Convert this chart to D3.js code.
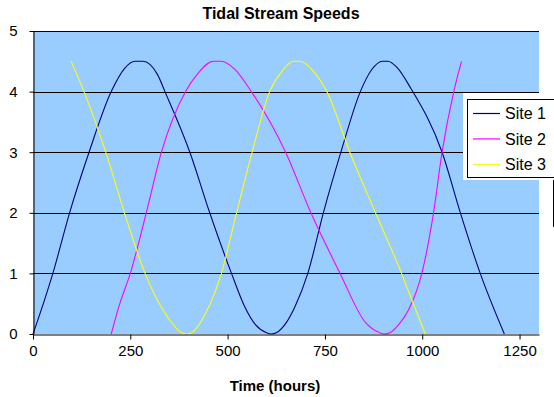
<!DOCTYPE html>
<html>
<head>
<meta charset="utf-8">
<script src="https://cdn.jsdelivr.net/npm/d3@7"></script>
<style>
  body { margin: 0; background: #fff; }
  text { font-family: "Liberation Sans", Arial, sans-serif; }
</style>
</head>
<body>
<svg id="chart" width="554" height="397"></svg>
<script>
// readings taken off the original chart (hours, speed)
const site1Time  = [0, 28, 51, 94, 144, 201, 235, 262, 282, 320, 339, 403, 454, 510, 544, 572, 600, 612, 625, 652, 673, 706, 746, 791, 841, 870, 898, 912, 935, 971, 1051, 1098, 1149, 1211];
const site1Speed = [0, 0.53, 1, 2, 3, 4, 4.38, 4.5, 4.5, 4.28, 4, 3, 2, 1, 0.45, 0.15, 0.02, 0, 0.02, 0.2, 0.45, 1, 2, 3, 4, 4.36, 4.5, 4.5, 4.4, 4.05, 3, 2, 1, 0];

const site2Time  = [201, 222, 250, 291, 330, 392, 424, 463, 484, 518, 561, 649, 714, 789, 853, 891, 904, 917, 939, 965, 999, 1029, 1051, 1081, 1101];
const site2Speed = [0, 0.48, 1, 2, 3, 4, 4.3, 4.5, 4.5, 4.37, 4, 3, 2, 1, 0.2, 0.02, 0, 0.02, 0.15, 0.4, 1, 2, 3, 4, 4.5];

const site3Time  = [98, 131, 187, 235, 288, 313, 347, 382, 394, 407, 441, 484, 523, 563, 608, 639, 669, 686, 725, 755, 814, 880, 947, 971, 1008];
const site3Speed = [4.5, 4, 3, 2, 1, 0.64, 0.27, 0.02, 0, 0.02, 0.31, 1, 2, 3, 4, 4.33, 4.5, 4.5, 4.3, 4, 3, 2, 1, 0.6, 0];

const seriesNames  = ["Site 1", "Site 2", "Site 3"];
const seriesColors = ["#000080", "#ff00ff", "#ffff00"];
const xTicks = [0, 250, 500, 750, 1000, 1250];
const yTicks = [0, 1, 2, 3, 4, 5];

const series = [
  { name: seriesNames[0], color: seriesColors[0], pts: site1Time.map((t, i) => [t, site1Speed[i]]) },
  { name: seriesNames[1], color: seriesColors[1], pts: site2Time.map((t, i) => [t, site2Speed[i]]) },
  { name: seriesNames[2], color: seriesColors[2], pts: site3Time.map((t, i) => [t, site3Speed[i]]) }
];

const plotLeft = 33, plotRight = 539, plotTop = 31, plotBottom = 334;

const x = d3.scaleLinear().domain([0, 1300]).range([plotLeft, plotRight]);
const y = d3.scaleLinear().domain([0, 5]).range([plotBottom, plotTop]);

const svg = d3.select('#chart');

// plot area
svg.append('rect')
  .attr('x', plotLeft).attr('y', plotTop)
  .attr('width', plotRight - plotLeft).attr('height', plotBottom - plotTop)
  .attr('fill', '#99ccff');

// gridlines
svg.append('g').selectAll('line')
  .data(yTicks.filter(d => d > 0))
  .enter().append('line')
  .attr('x1', plotLeft).attr('x2', plotRight)
  .attr('y1', d => Math.round(y(d)) + 0.5).attr('y2', d => Math.round(y(d)) + 0.5)
  .attr('stroke', '#000').attr('stroke-width', 1);

// series
const line = d3.line()
  .x(d => x(d[0]))
  .y(d => y(d[1]))
  .curve(d3.curveMonotoneX);

svg.append('g').selectAll('path')
  .data(series)
  .enter().append('path')
  .attr('d', d => line(d.pts))
  .attr('fill', 'none')
  .attr('stroke', d => d.color)
  .attr('stroke-width', 1.1);

// axes
const xAxis = svg.append('g')
  .attr('transform', `translate(0,${plotBottom + 0.5})`)
  .call(d3.axisBottom(x).tickValues(xTicks).tickFormat(d3.format('d'))
    .tickSize(5).tickSizeOuter(0).tickPadding(6));

const yAxis = svg.append('g')
  .attr('transform', `translate(${plotLeft + 0.5},0)`)
  .call(d3.axisLeft(y).tickValues(yTicks).tickFormat(d3.format('d'))
    .tickSize(4).tickSizeOuter(0).tickPadding(12));

[xAxis, yAxis].forEach(a => {
  a.selectAll('path, line').attr('stroke', '#000');
  a.selectAll('text')
    .attr('fill', '#000')
    .style('font-size', '15px')
    .style('font-family', '"Liberation Sans", Arial, sans-serif');
});

// titles
svg.append('text')
  .attr('x', 281).attr('y', 18.5)
  .attr('text-anchor', 'middle')
  .style('font-size', '16px').style('font-weight', 'bold')
  .text('Tidal Stream Speeds');

svg.append('text')
  .attr('x', 275).attr('y', 390.5)
  .attr('text-anchor', 'middle')
  .style('font-size', '15px').style('font-weight', 'bold')
  .text('Time (hours)');

// legend
const legend = svg.append('g');
legend.append('rect')
  .attr('x', 463).attr('y', 93)
  .attr('width', 100).attr('height', 87)
  .attr('fill', '#fff');
legend.append('rect')
  .attr('x', 467.5).attr('y', 99.5)
  .attr('width', 100).attr('height', 78)
  .attr('fill', 'none').attr('stroke', '#000').attr('stroke-width', 1);
legend.append('line')
  .attr('x1', 553.5).attr('x2', 553.5)
  .attr('y1', 180).attr('y2', 227)
  .attr('stroke', '#000');

const items = legend.selectAll('g.item')
  .data(series)
  .enter().append('g')
  .attr('class', 'item')
  .attr('transform', (d, i) => `translate(0,${113.5 + i * 25.4})`);
items.append('line')
  .attr('x1', 473).attr('x2', 500)
  .attr('stroke', d => d.color).attr('stroke-width', 1.2);
items.append('text')
  .attr('x', 505).attr('dy', '0.35em')
  .style('font-size', '16px')
  .text(d => d.name);
</script>
</body>
</html>
